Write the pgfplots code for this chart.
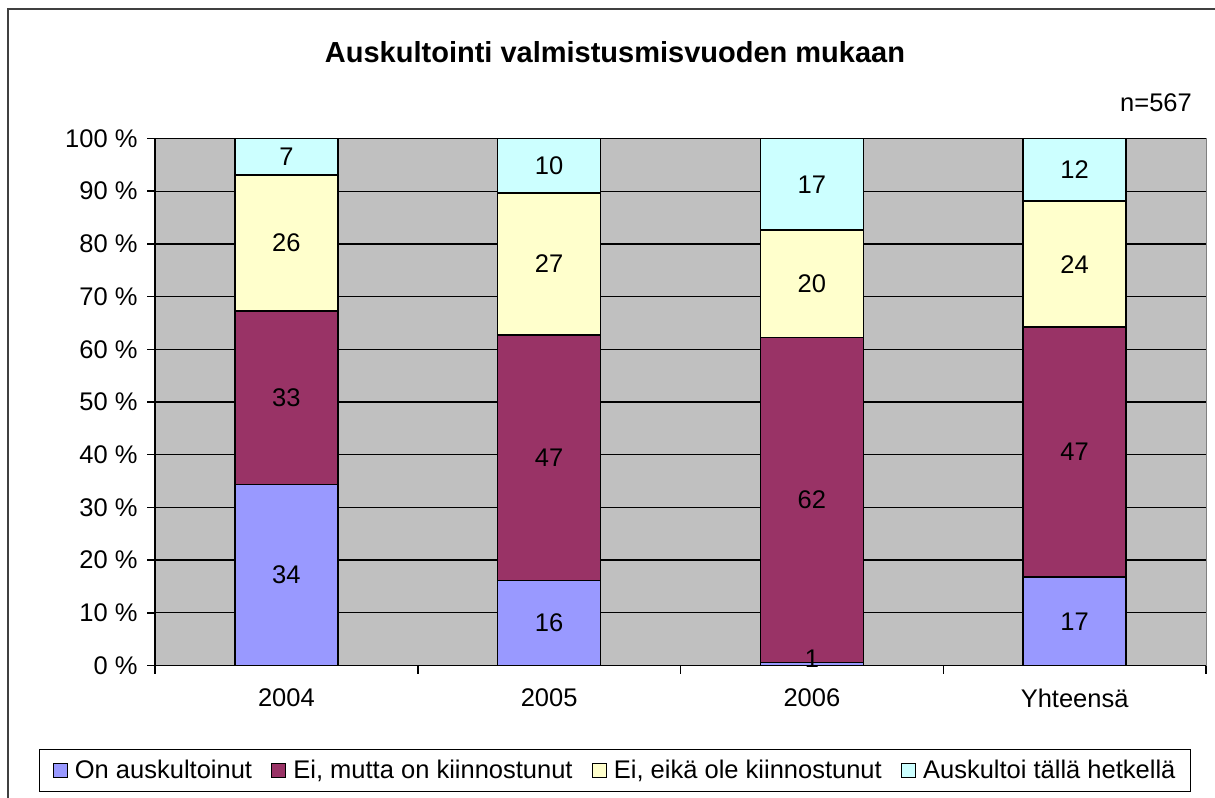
\documentclass[border=0pt]{standalone}
\usepackage{fontspec}
\setmainfont{Liberation Sans}
\usepackage{pgfplots}
\pgfplotsset{compat=1.18}
\usepackage{pgfplotstable}
\definecolor{cblue}{HTML}{9999FF}
\definecolor{cred}{HTML}{993366}
\definecolor{cyel}{HTML}{FFFFCC}
\definecolor{ccyan}{HTML}{CCFFFF}
\definecolor{cgray}{HTML}{C0C0C0}
\newcommand{\tf}{\fontsize{25.5bp}{29bp}\selectfont}
\pgfplotstableread{
x a b c d
0 34.3 33.0 25.8 6.9
1 16.1 46.6 27.0 10.3
2 0.6 61.6 20.4 17.4
3 16.8 47.4 23.9 11.9
}\data
\pgfplotstableread{
x y lab
0 17.15 34
0 50.8 33
0 80.2 26
0 96.55 7
1 8.05 16
1 39.4 47
1 76.2 27
1 94.85 10
2 1.3 1
2 31.4 62
2 72.4 20
2 91.3 17
3 8.4 17
3 40.5 47
3 76.15 24
3 94.05 12
}\labels
\begin{document}
\begin{tikzpicture}
\useasboundingbox (0,0) rectangle (1215bp,-798bp);
\fill[white] (0,0) rectangle (1215bp,-798bp);
\draw[line width=2bp, black!75] (8bp,-900bp) -- (8bp,-8.5bp) -- (1300bp,-8.5bp);
\node[font=\fontsize{29bp}{33bp}\selectfont\bfseries] at (615bp,-52bp) {Auskultointi valmistusmisvuoden mukaan};
\node[font=\tf] at (1156bp,-103bp) {n=567};
\begin{axis}[
  at={(155bp,-138.5bp)}, anchor=north west,
  scale only axis, width=1051bp, height=527bp,
  xmin=-0.5, xmax=3.5, ymin=0, ymax=100,
  ybar stacked, bar width=103bp,
  axis background/.style={fill=cgray, draw=gray, line width=1bp},
  axis x line*=bottom, axis y line*=left,
  axis line style={-, black, line width=1.5bp},
  xtick={0,1,2,3}, xticklabels={2004,2005,2006,Yhteensä},
  minor xtick={-0.5,0.5,1.5,2.5,3.5},
  major x tick style={draw=none},
  minor x tick style={draw=black, line width=1.5bp},
  minor tick length=8bp, major tick length=8bp,
  tick align=outside,
  ytick={0,10,...,100},
  yticklabels={0 \%,10 \%,20 \%,30 \%,40 \%,50 \%,60 \%,70 \%,80 \%,90 \%,100 \%},
  ytick style={black, line width=1.5bp},
  ymajorgrids, major grid style={black, line width=1.3bp},
  tick label style={font=\tf, text=black},
  yticklabel style={xshift=-6bp},
  xticklabel style={yshift=-12bp},
  legend columns=4,
  legend style={at={(0.4377,-0.158)}, anchor=north, draw=black, line width=1.5bp, font=\tf,
     inner xsep=13bp, inner ysep=9bp,
     /tikz/every odd column/.append style={column sep=5bp},
     /tikz/every even column/.append style={column sep=17bp}},
  legend image code/.code={\draw[#1, draw=black, line width=1.3bp] (0bp,-7bp) rectangle (14bp,7bp);},
]
\addplot[fill=cblue, draw=black, line width=1.5bp] table[x=x, y=a] {\data};
\addplot[fill=cred, draw=black, line width=1.5bp] table[x=x, y=b] {\data};
\addplot[fill=cyel, draw=black, line width=1.5bp] table[x=x, y=c] {\data};
\addplot[fill=ccyan, draw=black, line width=1.5bp] table[x=x, y=d] {\data};
\legend{On auskultoinut, {Ei, mutta on kiinnostunut}, {Ei, eikä ole kiinnostunut}, Auskultoi tällä hetkellä}
\end{axis}
\begin{axis}[
  at={(155bp,-138.5bp)}, anchor=north west,
  scale only axis, width=1051bp, height=527bp,
  xmin=-0.5, xmax=3.5, ymin=0, ymax=100,
  hide axis, clip=false,
]
\addplot[only marks, mark=none, nodes near coords, point meta=explicit symbolic,
  every node near coord/.append style={anchor=center, font=\tf, text=black}]
  table[x=x, y=y, meta=lab] {\labels};
\end{axis}
\end{tikzpicture}
\end{document}
